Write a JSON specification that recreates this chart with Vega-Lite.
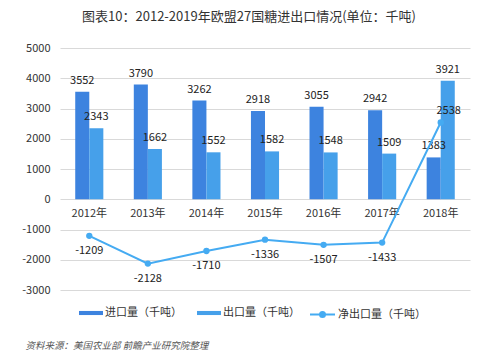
{
  "$schema": "https://vega.github.io/schema/vega-lite/v6.json",
  "width": 410,
  "height": 242,
  "autosize": {"type": "none"},
  "padding": {"left": 60, "top": 48, "right": 30, "bottom": 72},
  "background": "#ffffff",
  "config": {
    "view": {"stroke": null},
    "font": "Noto Sans CJK SC",
    "axis": {"labelFont": "Noto Sans CJK SC", "titleFont": "Noto Sans CJK SC"},
    "legend": {"labelFont": "Noto Sans CJK SC"}
  },
  "title": {
    "text": "图表10：2012-2019年欧盟27国糖进出口情况(单位：千吨)",
    "fontSize": 13,
    "fontWeight": "normal",
    "color": "#333333",
    "anchor": "middle",
    "dx": -16,
    "offset": 18
  },
  "datasets": {
    "bars": [
      {"year": "2012年", "series": "进口量（千吨）", "value": 3552},
      {"year": "2012年", "series": "出口量（千吨）", "value": 2343},
      {"year": "2013年", "series": "进口量（千吨）", "value": 3790},
      {"year": "2013年", "series": "出口量（千吨）", "value": 1662},
      {"year": "2014年", "series": "进口量（千吨）", "value": 3262},
      {"year": "2014年", "series": "出口量（千吨）", "value": 1552},
      {"year": "2015年", "series": "进口量（千吨）", "value": 2918},
      {"year": "2015年", "series": "出口量（千吨）", "value": 1582},
      {"year": "2016年", "series": "进口量（千吨）", "value": 3055},
      {"year": "2016年", "series": "出口量（千吨）", "value": 1548},
      {"year": "2017年", "series": "进口量（千吨）", "value": 2942},
      {"year": "2017年", "series": "出口量（千吨）", "value": 1509},
      {"year": "2018年", "series": "进口量（千吨）", "value": 1383},
      {"year": "2018年", "series": "出口量（千吨）", "value": 3921}
    ],
    "net": [
      {"year": "2012年", "series": "净出口量（千吨）", "value": -1209},
      {"year": "2013年", "series": "净出口量（千吨）", "value": -2128},
      {"year": "2014年", "series": "净出口量（千吨）", "value": -1710},
      {"year": "2015年", "series": "净出口量（千吨）", "value": -1336},
      {"year": "2016年", "series": "净出口量（千吨）", "value": -1507},
      {"year": "2017年", "series": "净出口量（千吨）", "value": -1433},
      {"year": "2018年", "series": "净出口量（千吨）", "value": 2538}
    ]
  },
  "encoding": {
    "x": {
      "field": "year",
      "type": "nominal",
      "sort": null,
      "scale": {"paddingInner": 0.52, "paddingOuter": 0.26},
      "axis": {
        "orient": "bottom",
        "offset": -90.75,
        "domain": false,
        "ticks": false,
        "grid": false,
        "labelAngle": 0,
        "labelFontSize": 11,
        "labelColor": "#333333",
        "labelPadding": 8,
        "title": "资料来源：美国农业部 前瞻产业研究院整理",
        "titleFontSize": 9.5,
        "titleFontWeight": "normal",
        "titleFontStyle": "italic",
        "titleColor": "#555555",
        "titleAnchor": "start",
        "titleAlign": "left",
        "titleBaseline": "middle",
        "titleX": -35,
        "titleY": 146
      }
    },
    "y": {
      "field": "value",
      "type": "quantitative",
      "scale": {"domain": [-3000, 5000], "nice": false},
      "axis": {
        "values": [-3000, -2000, -1000, 0, 1000, 2000, 3000, 4000, 5000],
        "title": null,
        "domain": false,
        "ticks": false,
        "labelFontSize": 11,
        "labelColor": "#333333",
        "labelPadding": 10,
        "gridColor": "#d9d9d9",
        "gridWidth": 1,
        "labelExpr": "'' + datum.value"
      }
    }
  },
  "layer": [
    {
      "data": {"name": "bars"},
      "mark": {"type": "bar"},
      "encoding": {
        "xOffset": {"field": "series", "type": "nominal", "sort": ["进口量（千吨）", "出口量（千吨）"]},
        "color": {
          "field": "series",
          "type": "nominal",
          "scale": {"domain": ["进口量（千吨）", "出口量（千吨）"], "range": ["#3d83df", "#46a0ea"]},
          "legend": {
            "orient": "none",
            "direction": "horizontal",
            "title": null,
            "legendX": 19,
            "legendY": 253,
            "padding": 0,
            "symbolType": "M-1,-0.17H1V0.17H-1Z",
            "symbolSize": 576,
            "symbolStrokeWidth": 0,
            "labelFontSize": 11,
            "labelColor": "#333333",
            "labelOffset": 2,
            "columnPadding": 15
          }
        }
      }
    },
    {
      "data": {"name": "bars"},
      "mark": {"type": "text", "fontSize": 11, "color": "#222222", "baseline": "middle", "dy": -11},
      "encoding": {
        "xOffset": {"field": "series", "type": "nominal", "sort": ["进口量（千吨）", "出口量（千吨）"]},
        "text": {"field": "value", "type": "nominal"}
      }
    },
    {
      "data": {"name": "net"},
      "mark": {"type": "line", "strokeWidth": 2},
      "encoding": {
        "stroke": {
          "field": "series",
          "type": "nominal",
          "scale": {"range": ["#45abf2"]},
          "legend": {
            "orient": "none",
            "direction": "horizontal",
            "title": null,
            "legendX": 249,
            "legendY": 253,
            "padding": 0,
            "symbolType": "M-1,0H1M0.2,0A0.2,0.2,0,1,1,-0.2,0A0.2,0.2,0,1,1,0.2,0",
            "symbolSize": 625,
            "symbolStrokeWidth": 2,
            "symbolFillColor": "#45abf2",
            "labelFontSize": 11,
            "labelColor": "#333333",
            "labelOffset": 2
          }
        }
      }
    },
    {
      "data": {"name": "net"},
      "mark": {"type": "point", "filled": true, "size": 40, "color": "#45abf2", "opacity": 1},
      "encoding": {}
    },
    {
      "data": {"name": "net"},
      "transform": [{"filter": "datum.value < 0"}],
      "mark": {"type": "text", "fontSize": 11, "color": "#222222", "baseline": "middle", "dy": 15},
      "encoding": {"text": {"field": "value", "type": "nominal"}}
    },
    {
      "data": {"name": "net"},
      "transform": [{"filter": "datum.value >= 0"}],
      "mark": {"type": "text", "fontSize": 11, "color": "#222222", "baseline": "middle", "dy": -11, "dx": 8},
      "encoding": {"text": {"field": "value", "type": "nominal"}}
    }
  ]
}
